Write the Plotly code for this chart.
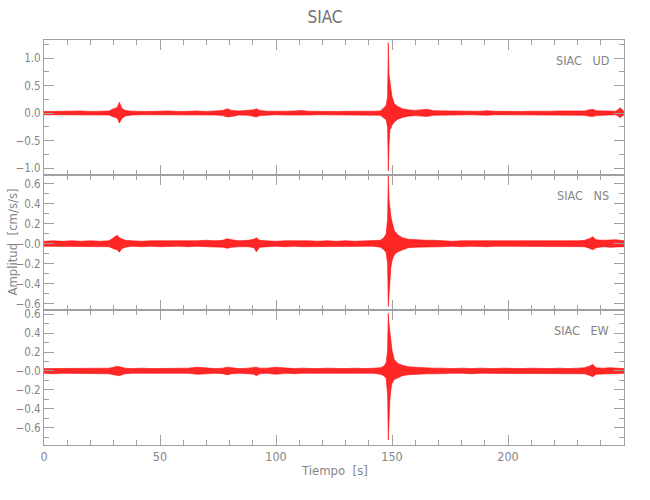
import plotly.graph_objects as go
from plotly.subplots import make_subplots

# ---- data: time knots (s) and peak envelope (upper / lower) per component, cm/s/s ----
t_knots = [0, 4, 8, 12, 16, 20, 24, 28, 30, 31.5, 32.5, 33.5, 35, 38, 42, 46, 50, 54, 58, 62,
           66, 70, 74, 77, 79, 81, 84, 88, 90.5, 91.5, 93, 96, 100, 104, 108, 111, 114, 118, 122, 126,
           130, 134, 138, 142, 145, 146.5, 147.5, 148.1, 148.4, 148.7, 149.1, 149.5, 150, 151, 152.5, 154.5, 157, 160, 163, 165,
           168, 172, 176, 180, 184, 188, 191, 194, 198, 202, 206, 210, 214, 218, 222, 226, 230, 233, 235, 236.5,
           238, 241, 244, 246.5, 248.4, 250]

ud_up = [0.03, 0.035, 0.03, 0.035, 0.04, 0.03, 0.035, 0.04, 0.08, 0.1, 0.2, 0.09, 0.05, 0.035, 0.03, 0.035, 0.03, 0.04, 0.03, 0.035,
         0.04, 0.03, 0.035, 0.05, 0.08, 0.05, 0.04, 0.045, 0.06, 0.08, 0.05, 0.035, 0.03, 0.035, 0.04, 0.05, 0.035, 0.03, 0.035, 0.03,
         0.035, 0.03, 0.035, 0.035, 0.04, 0.1, 0.14, 0.3, 1.28, 0.7, 0.55, 0.45, 0.3, 0.17, 0.12, 0.08, 0.06, 0.05, 0.06, 0.07,
         0.045, 0.04, 0.035, 0.04, 0.035, 0.035, 0.045, 0.035, 0.03, 0.035, 0.03, 0.035, 0.03, 0.035, 0.04, 0.035, 0.035, 0.04, 0.06, 0.07,
         0.045, 0.04, 0.035, 0.035, 0.1, 0.03]
ud_lo = [-0.03, -0.03, -0.035, -0.03, -0.035, -0.03, -0.035, -0.035, -0.07, -0.09, -0.18, -0.1, -0.05, -0.035, -0.03, -0.03, -0.035, -0.035, -0.03, -0.035,
         -0.035, -0.03, -0.035, -0.045, -0.07, -0.06, -0.035, -0.04, -0.06, -0.07, -0.045, -0.035, -0.03, -0.035, -0.035, -0.045, -0.035, -0.03, -0.03, -0.035,
         -0.03, -0.03, -0.035, -0.03, -0.04, -0.09, -0.12, -0.25, -1.05, -0.6, -0.3, -0.28, -0.22, -0.16, -0.11, -0.08, -0.055, -0.045, -0.05, -0.06,
         -0.04, -0.035, -0.035, -0.035, -0.03, -0.035, -0.04, -0.03, -0.03, -0.035, -0.03, -0.03, -0.035, -0.035, -0.035, -0.03, -0.035, -0.04, -0.055, -0.06,
         -0.045, -0.035, -0.035, -0.03, -0.08, -0.03]

ns_up = [0.025, 0.03, 0.025, 0.03, 0.025, 0.03, 0.025, 0.03, 0.06, 0.085, 0.06, 0.05, 0.035, 0.03, 0.025, 0.03, 0.03, 0.025, 0.03, 0.025,
         0.03, 0.035, 0.03, 0.035, 0.05, 0.04, 0.03, 0.035, 0.045, 0.06, 0.035, 0.03, 0.025, 0.03, 0.03, 0.035, 0.03, 0.025, 0.03, 0.025,
         0.03, 0.025, 0.03, 0.03, 0.035, 0.06, 0.1, 0.25, 0.68, 0.45, 0.34, 0.28, 0.22, 0.13, 0.09, 0.06, 0.045, 0.04, 0.04, 0.035,
         0.035, 0.03, 0.025, 0.03, 0.03, 0.025, 0.03, 0.025, 0.03, 0.025, 0.03, 0.03, 0.025, 0.03, 0.03, 0.025, 0.03, 0.035, 0.05, 0.07,
         0.04, 0.035, 0.04, 0.04, 0.035, 0.03]
ns_lo = [-0.025, -0.025, -0.03, -0.025, -0.025, -0.03, -0.025, -0.03, -0.05, -0.06, -0.085, -0.05, -0.035, -0.025, -0.03, -0.025, -0.03, -0.025, -0.025, -0.03,
         -0.025, -0.03, -0.03, -0.035, -0.045, -0.035, -0.03, -0.03, -0.04, -0.08, -0.035, -0.03, -0.025, -0.03, -0.025, -0.03, -0.03, -0.025, -0.025, -0.03,
         -0.025, -0.025, -0.03, -0.025, -0.035, -0.06, -0.09, -0.2, -0.63, -0.5, -0.34, -0.24, -0.17, -0.11, -0.08, -0.06, -0.04, -0.035, -0.035, -0.035,
         -0.03, -0.03, -0.025, -0.03, -0.025, -0.03, -0.03, -0.025, -0.025, -0.03, -0.025, -0.03, -0.025, -0.025, -0.03, -0.025, -0.03, -0.03, -0.045, -0.06,
         -0.04, -0.03, -0.035, -0.035, -0.03, -0.03]

ew_up = [0.025, 0.025, 0.03, 0.025, 0.03, 0.025, 0.03, 0.03, 0.04, 0.05, 0.045, 0.04, 0.03, 0.025, 0.03, 0.025, 0.025, 0.03, 0.025, 0.03,
         0.04, 0.03, 0.025, 0.03, 0.04, 0.035, 0.025, 0.03, 0.035, 0.04, 0.03, 0.03, 0.04, 0.03, 0.025, 0.03, 0.025, 0.025, 0.03, 0.025,
         0.025, 0.03, 0.025, 0.03, 0.035, 0.05, 0.09, 0.22, 0.61, 0.5, 0.4, 0.3, 0.22, 0.12, 0.08, 0.06, 0.045, 0.04, 0.035, 0.035,
         0.03, 0.03, 0.025, 0.03, 0.025, 0.03, 0.025, 0.025, 0.03, 0.025, 0.025, 0.03, 0.025, 0.025, 0.03, 0.025, 0.03, 0.035, 0.05, 0.07,
         0.035, 0.03, 0.035, 0.03, 0.03, 0.025]
ew_lo = [-0.025, -0.03, -0.025, -0.025, -0.03, -0.025, -0.025, -0.03, -0.04, -0.05, -0.05, -0.04, -0.03, -0.025, -0.025, -0.03, -0.025, -0.025, -0.03, -0.025,
         -0.035, -0.03, -0.025, -0.03, -0.04, -0.03, -0.025, -0.03, -0.035, -0.05, -0.03, -0.025, -0.035, -0.025, -0.03, -0.025, -0.025, -0.03, -0.025, -0.025,
         -0.03, -0.025, -0.025, -0.025, -0.035, -0.05, -0.08, -0.25, -0.73, -0.5, -0.3, -0.2, -0.13, -0.09, -0.07, -0.05, -0.04, -0.035, -0.03, -0.03,
         -0.03, -0.025, -0.025, -0.025, -0.03, -0.025, -0.025, -0.03, -0.025, -0.025, -0.03, -0.025, -0.025, -0.03, -0.025, -0.025, -0.03, -0.03, -0.045, -0.06,
         -0.035, -0.03, -0.03, -0.03, -0.03, -0.025]

components = ["UD", "NS", "EW"]
station = "SIAC"
x_ticks = [0, 50, 100, 150, 200]
ud_ticks = [-1.0, -0.5, 0.0, 0.5, 1.0]
ud_ticktext = ["\u22121.0", "\u22120.5", "0.0", "0.5", "1.0"]
hz_ticks = [-0.6, -0.4, -0.2, 0.0, 0.2, 0.4, 0.6]
hz_ticktext = ["\u22120.6", "\u22120.4", "\u22120.2", "\u22120.0", "0.2", "0.4", "0.6"]

for arr in (ud_up, ud_lo, ns_up, ns_lo, ew_up, ew_lo):
    assert len(arr) == len(t_knots), len(arr)

FONT = "Liberation Sans Narrow, DejaVu Sans Condensed, Liberation Sans, sans-serif"
AX = "#a0a0a0"
TX = "#858585"

fig = make_subplots(rows=3, cols=1, shared_xaxes=True, vertical_spacing=0)

series = [(ud_up, ud_lo), (ns_up, ns_lo), (ew_up, ew_lo)]
for i, (up, lo) in enumerate(series, start=1):
    fig.add_trace(go.Scatter(x=t_knots, y=up, mode="lines",
                             line=dict(color="rgba(255,0,0,0.9)", width=0.6),
                             showlegend=False, hoverinfo="skip"), row=i, col=1)
    fig.add_trace(go.Scatter(x=t_knots, y=lo, mode="lines", fill="tonexty",
                             fillcolor="rgba(255,0,0,0.85)",
                             line=dict(color="rgba(255,0,0,0.9)", width=0.6),
                             showlegend=False, hoverinfo="skip"), row=i, col=1)

common_x = dict(range=[0, 250], showline=True, linecolor=AX, linewidth=1, mirror="allticks",
                ticks="inside", ticklen=10, tickcolor=AX, tickwidth=1, automargin=False,
                tickvals=x_ticks, showgrid=False, zeroline=False,
                minor=dict(ticks="inside", ticklen=5, tickcolor=AX, dtick=10, tick0=0, showgrid=False),
                tickfont=dict(family=FONT, size=12.5, color=TX))
for i in range(1, 4):
    fig.update_xaxes(common_x, row=i, col=1)

common_y = dict(showline=True, linecolor=AX, linewidth=1, mirror="allticks",
                ticks="inside", ticklen=10, tickcolor=AX, tickwidth=1, automargin=False,
                showgrid=False, zeroline=False,
                tickfont=dict(family=FONT, size=11.5, color=TX))
fig.update_yaxes(common_y, row=1, col=1, range=[-1.125, 1.33], tickvals=ud_ticks, ticktext=ud_ticktext,
                 minor=dict(ticks="inside", ticklen=5, tickcolor=AX, dtick=0.25, tick0=0, showgrid=False))
fig.update_yaxes(common_y, row=2, col=1, range=[-0.665, 0.69], tickvals=hz_ticks, ticktext=hz_ticktext,
                 minor=dict(ticks="inside", ticklen=5, tickcolor=AX, dtick=0.1, tick0=0, showgrid=False))
fig.update_yaxes(common_y, row=3, col=1, range=[-0.783, 0.645], tickvals=hz_ticks, ticktext=hz_ticktext,
                 minor=dict(ticks="inside", ticklen=5, tickcolor=AX, dtick=0.1, tick0=0, showgrid=False))

for i, comp in enumerate(components, start=1):
    yref = "y domain" if i == 1 else f"y{i} domain"
    xref = "x domain" if i == 1 else f"x{i} domain"
    fig.add_annotation(text=f"{station}&nbsp;&nbsp;&nbsp;{comp}", xref=xref, yref=yref,
                       x=0.977, y=0.85, xanchor="right", yanchor="middle", showarrow=False,
                       font=dict(family=FONT, size=12.5, color=TX))

fig.add_annotation(text="Amplitud&nbsp;&nbsp;[cm/s/s]", xref="paper", yref="paper",
                   x=-0.055, y=0.5, textangle=-90, xanchor="center", yanchor="middle",
                   showarrow=False, font=dict(family=FONT, size=13, color=TX))
fig.add_annotation(text="Tiempo&nbsp;&nbsp;[s]", xref="paper", yref="paper",
                   x=0.5, y=-0.04, xanchor="center", yanchor="top",
                   showarrow=False, font=dict(family=FONT, size=13, color=TX))

fig.update_layout(
    width=650, height=500,
    margin=dict(l=44, r=26, t=40, b=55, autoexpand=False),
    paper_bgcolor="white", plot_bgcolor="white",
    title=dict(text=station, x=0.5, xanchor="center", y=0.966, yanchor="middle",
               font=dict(family=FONT, size=17, color="#707070")),
    showlegend=False,
)

fig.write_html("out.html", config={"displayModeBar": False},
               post_script="document.body.style.margin='0';document.body.style.overflow='hidden';")
